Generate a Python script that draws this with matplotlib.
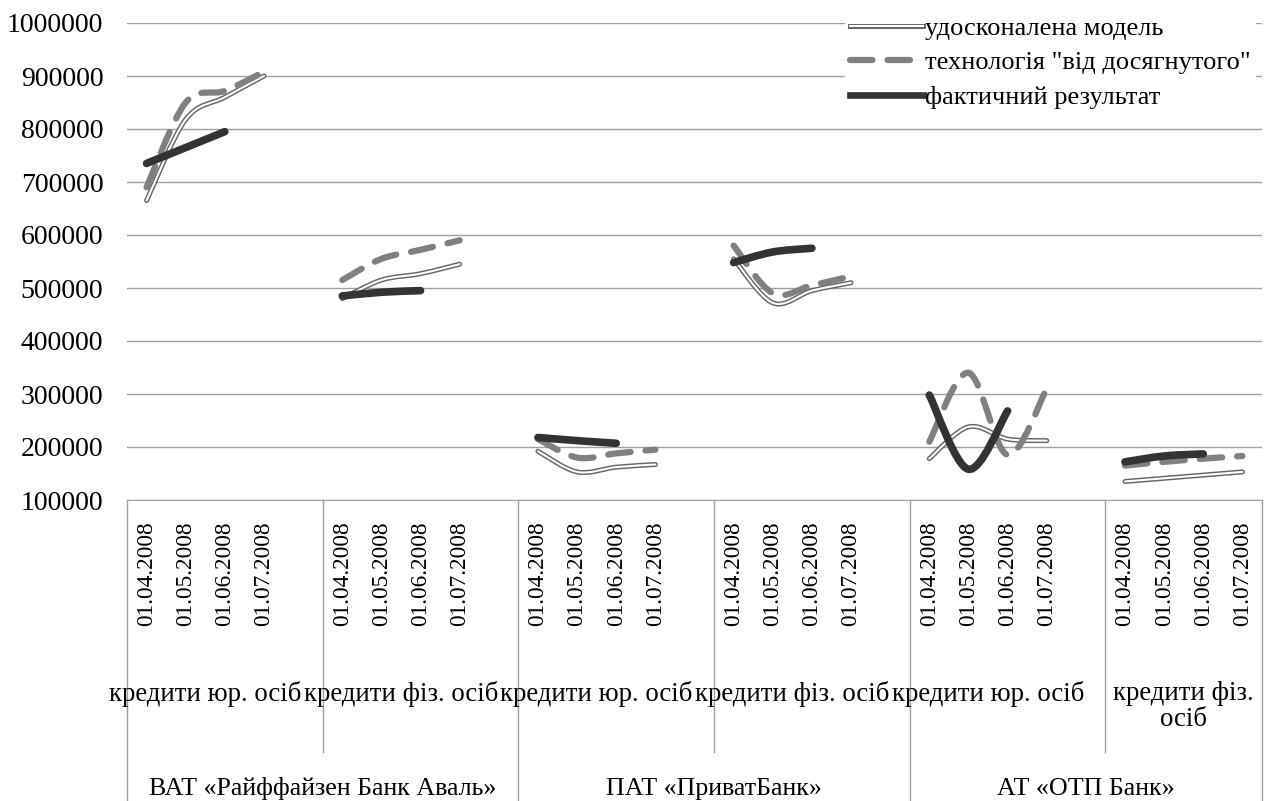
import numpy as np
import matplotlib
matplotlib.use("Agg")
import matplotlib.pyplot as plt
import matplotlib.patheffects as pe
from matplotlib.path import Path
from matplotlib.patches import PathPatch
from matplotlib.lines import Line2D
import matplotlib.transforms as mtransforms

plt.rcParams['font.family'] = ['Liberation Serif', 'DejaVu Serif']

dates = ['01.04.2008', '01.05.2008', '01.06.2008', '01.07.2008']
segments = ['кредити юр. осіб', 'кредити фіз. осіб',
            'кредити юр. осіб', 'кредити фіз. осіб',
            'кредити юр. осіб', 'кредити фіз.\nосіб']
banks = ['ВАТ «Райффайзен Банк Аваль»', 'ПАТ «ПриватБанк»', 'АТ «ОТП Банк»']

series_names = ['удосконалена модель', 'технологія "від досягнутого"', 'фактичний результат']

# 4 values per segment, 6 segments
model = [665000, 818000, 860000, 900000,
         480000, 515000, 527000, 545000,
         192000, 153000, 162000, 167000,
         555000, 472000, 495000, 510000,
         178000, 238000, 215000, 212000,
         135000, 141000, 147000, 153000]
tech = [690000, 850000, 872000, 908000,
        515000, 555000, 572000, 590000,
        215000, 180000, 188000, 195000,
        580000, 490000, 505000, 522000,
        210000, 340000, 185000, 310000,
        165000, 172000, 178000, 183000]
fact = [735000, 765000, 795000, None,
        485000, 492000, 495000, None,
        218000, 212000, 207000, None,
        548000, 568000, 575000, None,
        298000, 158000, 268000, None,
        172000, 183000, 187000, None]

n_seg = len(segments)
slots = 5  # 4 dates + one empty slot between segments
n_slots = n_seg * slots - 1


def smooth_path(xs, ys):
    pts = np.column_stack([xs, ys]).astype(float)
    n = len(pts)
    verts = [pts[0]]
    codes = [Path.MOVETO]
    for i in range(n - 1):
        p0 = pts[max(i - 1, 0)]
        p1 = pts[i]
        p2 = pts[i + 1]
        p3 = pts[min(i + 2, n - 1)]
        verts += [p1 + (p2 - p0) / 6, p2 - (p3 - p1) / 6, p2]
        codes += [Path.CURVE4] * 3
    return Path(verts, codes)


fig = plt.figure(figsize=(12.73, 8.01), dpi=100)
W, H = 1273, 801
ax = fig.add_axes([127 / W, 1 - 500 / H, (1262 - 127) / W, (500 - 23) / H])
ax.set_xlim(-0.5, n_slots - 0.5)
ax.set_ylim(100000, 1000000)

grid_c = '#a0a0a0'
ax.set_yticks(np.arange(100000, 1000001, 100000))
ax.set_yticklabels([str(v) for v in range(100000, 1000001, 100000)], fontsize=20)
ax.tick_params(axis='y', length=0, pad=17)
ax.set_xticks([])
for s in ['top', 'right', 'left']:
    ax.spines[s].set_visible(False)
ax.spines['bottom'].set_color(grid_c)
ax.yaxis.grid(True, color=grid_c, lw=1.0)
ax.set_axisbelow(True)

model_c = '#666666'
tech_c = '#808080'
fact_c = '#333333'

for g in range(n_seg):
    xs = [g * slots + j for j in range(4)]
    m = model[g * 4:(g + 1) * 4]
    t = tech[g * 4:(g + 1) * 4]
    f = [v for v in fact[g * 4:(g + 1) * 4] if v is not None]

    p = PathPatch(smooth_path(xs, m), fill=False, edgecolor=model_c, lw=3.6, capstyle='round', zorder=3)
    ax.add_patch(p)
    p = PathPatch(smooth_path(xs, m), fill=False, edgecolor='white', lw=1.5, capstyle='round', zorder=3.1)
    ax.add_patch(p)

    p = PathPatch(smooth_path(xs, t), fill=False, edgecolor=tech_c, lw=4.5,
                  linestyle=(0, (3.6, 2.4)), capstyle='round', zorder=4)
    ax.add_patch(p)

    p = PathPatch(smooth_path(xs[:len(f)], f), fill=False, edgecolor=fact_c, lw=5.5,
                  capstyle='round', zorder=5)
    ax.add_patch(p)

# category box below the axis
trans = mtransforms.blended_transform_factory(ax.transData, ax.transAxes)
ah = 500 - 23


def ay(px):
    return -(px - 500) / ah


for b in range(4):
    x = b * 2 * slots - 0.5 if b < 3 else n_slots - 0.5
    ax.add_line(Line2D([x, x], [0, ay(805)], transform=trans, color=grid_c, lw=1.0, clip_on=False))
for g in range(1, n_seg, 2):
    x = g * slots - 0.5
    ax.add_line(Line2D([x, x], [0, ay(752)], transform=trans, color=grid_c, lw=1.0, clip_on=False))

for g in range(n_seg):
    for j, d in enumerate(dates):
        ax.text(g * slots + j, ay(521), d, transform=trans, rotation=90,
                ha='center', va='top', fontsize=16.8)
    ax.text(g * slots + 1.5, ay(681), segments[g], transform=trans,
            ha='center', va='top', fontsize=19.3, linespacing=1.05)

bank_centers = [4.5, 14.5, (19.5 + n_slots - 0.5) / 2]
for b, name in enumerate(banks):
    ax.text(bank_centers[b], ay(789), name, transform=trans,
            ha='center', va='center', fontsize=18.7)

handles = [
    Line2D([], [], color='white', lw=1.5,
           path_effects=[pe.withStroke(linewidth=3.6, foreground=model_c)]),
    Line2D([], [], color=tech_c, lw=4.5, dashes=(3.6, 2.4), solid_capstyle='round',
           dash_capstyle='round'),
    Line2D([], [], color=fact_c, lw=4.8),
]
leg = fig.legend(handles, series_names, loc='upper left',
                 bbox_to_anchor=(845 / W, 1 - 11 / H), frameon=True,
                 fontsize=19, handlelength=2.75, handletextpad=0.08,
                 labelspacing=0.42, borderpad=0.2, borderaxespad=0)
leg.get_frame().set_facecolor('white')
leg.get_frame().set_edgecolor('none')
leg.get_frame().set_alpha(1)

fig.savefig('out.png', dpi=100)
